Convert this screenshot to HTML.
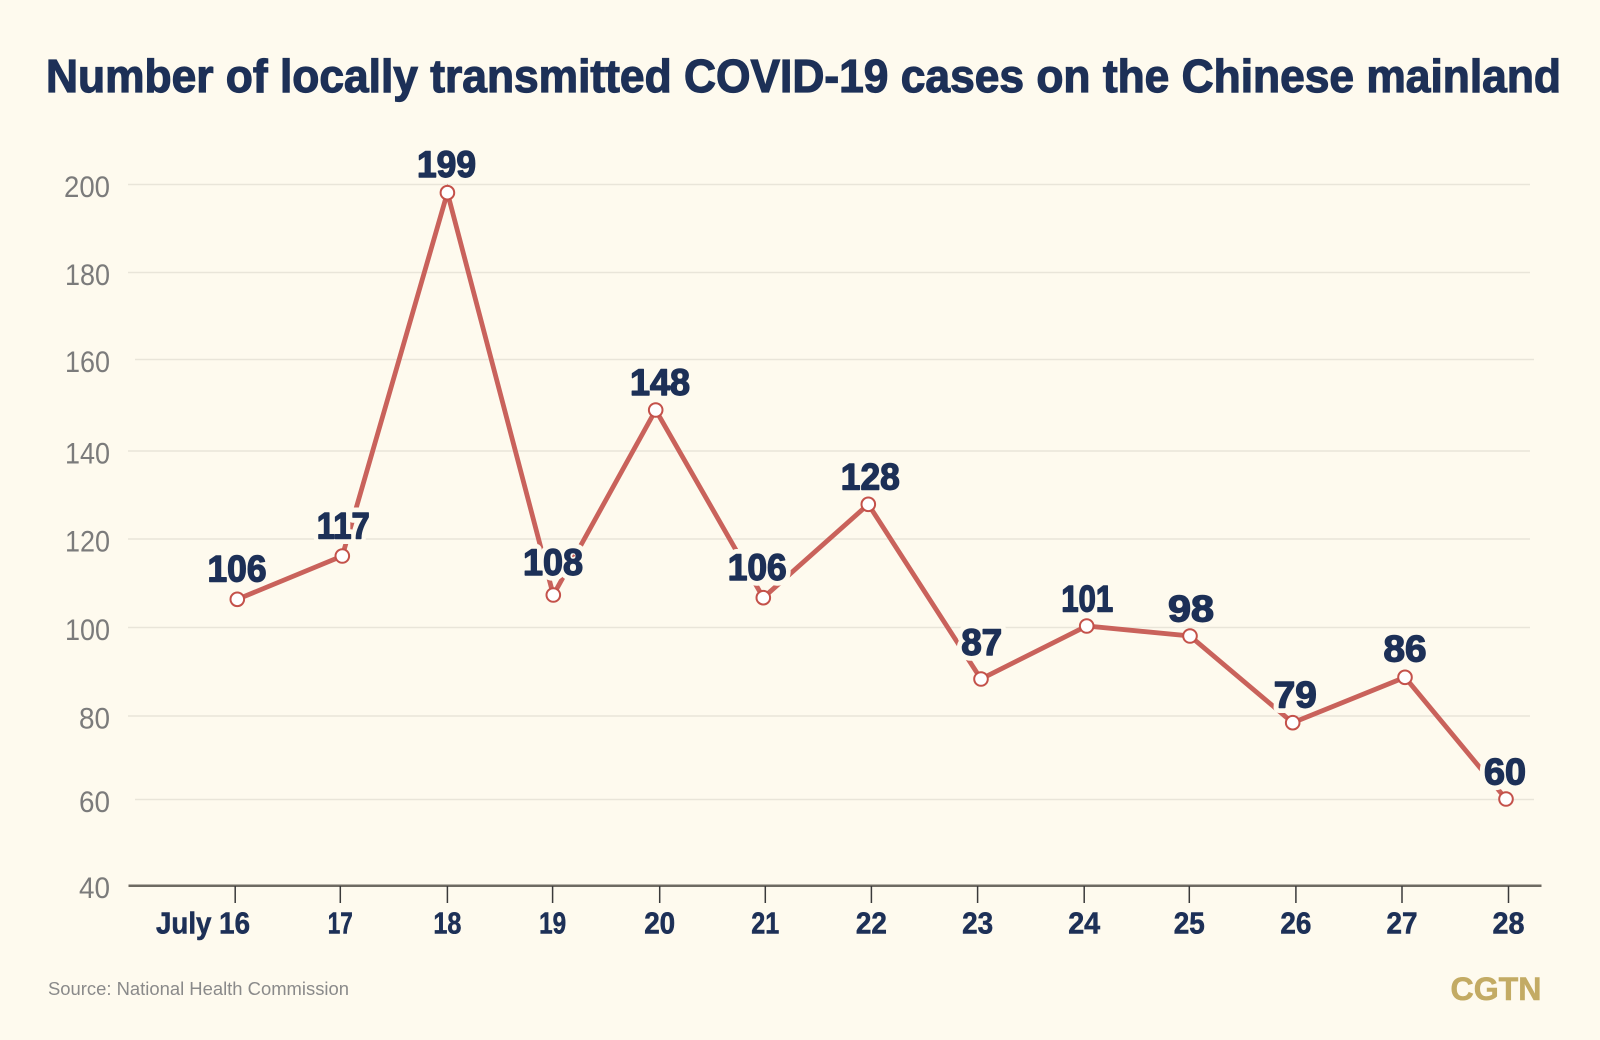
<!DOCTYPE html>
<html><head><meta charset="utf-8"><style>
html,body{margin:0;padding:0;background:#fefaee;}
svg{display:block;}
text{font-family:"Liberation Sans",sans-serif;}
</style></head><body>
<svg width="1600" height="1040" viewBox="0 0 1600 1040" xmlns="http://www.w3.org/2000/svg">
<rect width="1600" height="1040" fill="#fefaee"/>
<text x="46" y="92" font-size="46" font-weight="bold" fill="#1d3057" stroke="#1d3057" stroke-width="1.2" textLength="1515" lengthAdjust="spacingAndGlyphs">Number of locally transmitted COVID-19 cases on the Chinese mainland</text>

<g stroke="#e9e5d9" stroke-width="1.5">
<line x1="128" y1="184.5" x2="1530" y2="184.5"/>
<line x1="128" y1="272.5" x2="1530" y2="272.5"/>
<line x1="135" y1="359.5" x2="1534" y2="359.5"/>
<line x1="128" y1="451" x2="1530" y2="451"/>
<line x1="128" y1="539" x2="1530" y2="539"/>
<line x1="128" y1="627.5" x2="1530" y2="627.5"/>
<line x1="128" y1="716" x2="1530" y2="716"/>
<line x1="135" y1="799.5" x2="1534" y2="799.5"/>
</g>

<g font-size="30" fill="#7b7b7b" text-anchor="end">
<text x="110" y="197" textLength="46" lengthAdjust="spacingAndGlyphs">200</text>
<text x="110" y="285" textLength="45" lengthAdjust="spacingAndGlyphs">180</text>
<text x="110" y="372" textLength="45" lengthAdjust="spacingAndGlyphs">160</text>
<text x="110" y="463.5" textLength="45" lengthAdjust="spacingAndGlyphs">140</text>
<text x="110" y="551.5" textLength="45" lengthAdjust="spacingAndGlyphs">120</text>
<text x="110" y="640" textLength="45" lengthAdjust="spacingAndGlyphs">100</text>
<text x="110" y="728.5" textLength="31" lengthAdjust="spacingAndGlyphs">80</text>
<text x="110" y="812" textLength="31" lengthAdjust="spacingAndGlyphs">60</text>
<text x="110" y="898" textLength="31" lengthAdjust="spacingAndGlyphs">40</text>
</g>

<line x1="128.5" y1="885.7" x2="1541.5" y2="885.7" stroke="#6e6a62" stroke-width="2.5"/>
<g stroke="#3a3a3a" stroke-width="1.5">
<line x1="235.2" y1="886" x2="235.2" y2="903"/>
<line x1="340.3" y1="886" x2="340.3" y2="903"/>
<line x1="447.4" y1="886" x2="447.4" y2="903"/>
<line x1="552.6" y1="886" x2="552.6" y2="903"/>
<line x1="659.7" y1="886" x2="659.7" y2="903"/>
<line x1="765.3" y1="886" x2="765.3" y2="903"/>
<line x1="871.4" y1="886" x2="871.4" y2="903"/>
<line x1="977.6" y1="886" x2="977.6" y2="903"/>
<line x1="1084.2" y1="886" x2="1084.2" y2="903"/>
<line x1="1189.3" y1="886" x2="1189.3" y2="903"/>
<line x1="1295.9" y1="886" x2="1295.9" y2="903"/>
<line x1="1402" y1="886" x2="1402" y2="903"/>
<line x1="1508.5" y1="886" x2="1508.5" y2="903"/>
</g>

<g font-size="31" font-weight="bold" fill="#1d3057" stroke="#1d3057" stroke-width="0.6" text-anchor="middle">
<text x="203" y="933.5" textLength="94" lengthAdjust="spacingAndGlyphs">July 16</text>
<text x="340.3" y="933.5" textLength="25" lengthAdjust="spacingAndGlyphs">17</text>
<text x="447.4" y="933.5" textLength="28" lengthAdjust="spacingAndGlyphs">18</text>
<text x="552.6" y="933.5" textLength="27" lengthAdjust="spacingAndGlyphs">19</text>
<text x="659.7" y="933.5" textLength="31" lengthAdjust="spacingAndGlyphs">20</text>
<text x="765.3" y="933.5" textLength="28" lengthAdjust="spacingAndGlyphs">21</text>
<text x="871.4" y="933.5" textLength="31" lengthAdjust="spacingAndGlyphs">22</text>
<text x="977.6" y="933.5" textLength="31" lengthAdjust="spacingAndGlyphs">23</text>
<text x="1084.2" y="933.5" textLength="32" lengthAdjust="spacingAndGlyphs">24</text>
<text x="1189.3" y="933.5" textLength="31" lengthAdjust="spacingAndGlyphs">25</text>
<text x="1295.9" y="933.5" textLength="31" lengthAdjust="spacingAndGlyphs">26</text>
<text x="1402" y="933.5" textLength="31" lengthAdjust="spacingAndGlyphs">27</text>
<text x="1508.5" y="933.5" textLength="32" lengthAdjust="spacingAndGlyphs">28</text>
</g>

<polyline fill="none" stroke="#c9625b" stroke-width="4.8" stroke-linejoin="miter" points="237.3,599.3 342.3,556 447.4,192.7 553.3,595 655.7,410 763.3,597.7 868.3,504.3 981,679 1086.7,626 1190,636 1292.7,722.7 1405,677.3 1506,799"/>

<g font-size="37" font-weight="bold" fill="#fefaee" stroke="#fefaee" stroke-width="11" stroke-linejoin="round" text-anchor="middle">
<text x="237" y="581.7" textLength="59" lengthAdjust="spacingAndGlyphs">106</text>
<text x="343.3" y="538.3" textLength="53" lengthAdjust="spacingAndGlyphs">117</text>
<text x="446.5" y="177" textLength="59" lengthAdjust="spacingAndGlyphs">199</text>
<text x="553" y="575" textLength="60" lengthAdjust="spacingAndGlyphs">108</text>
<text x="660" y="395" textLength="60" lengthAdjust="spacingAndGlyphs">148</text>
<text x="757.2" y="580" textLength="59" lengthAdjust="spacingAndGlyphs">106</text>
<text x="870.3" y="489.3" textLength="59" lengthAdjust="spacingAndGlyphs">128</text>
<text x="981.7" y="655" textLength="41" lengthAdjust="spacingAndGlyphs">87</text>
<text x="1087.2" y="611.7" textLength="52" lengthAdjust="spacingAndGlyphs">101</text>
<text x="1191" y="621.5" textLength="46" lengthAdjust="spacingAndGlyphs">98</text>
<text x="1295.3" y="707.3" textLength="43" lengthAdjust="spacingAndGlyphs">79</text>
<text x="1405" y="661.7" textLength="43" lengthAdjust="spacingAndGlyphs">86</text>
<text x="1505" y="784.3" textLength="42" lengthAdjust="spacingAndGlyphs">60</text>
</g>
<g font-size="37" font-weight="bold" fill="#1d3057" stroke="#1d3057" stroke-width="1.4" stroke-linejoin="round" text-anchor="middle">
<text x="237" y="581.7" textLength="59" lengthAdjust="spacingAndGlyphs">106</text>
<text x="343.3" y="538.3" textLength="53" lengthAdjust="spacingAndGlyphs">117</text>
<text x="446.5" y="177" textLength="59" lengthAdjust="spacingAndGlyphs">199</text>
<text x="553" y="575" textLength="60" lengthAdjust="spacingAndGlyphs">108</text>
<text x="660" y="395" textLength="60" lengthAdjust="spacingAndGlyphs">148</text>
<text x="757.2" y="580" textLength="59" lengthAdjust="spacingAndGlyphs">106</text>
<text x="870.3" y="489.3" textLength="59" lengthAdjust="spacingAndGlyphs">128</text>
<text x="981.7" y="655" textLength="41" lengthAdjust="spacingAndGlyphs">87</text>
<text x="1087.2" y="611.7" textLength="52" lengthAdjust="spacingAndGlyphs">101</text>
<text x="1191" y="621.5" textLength="46" lengthAdjust="spacingAndGlyphs">98</text>
<text x="1295.3" y="707.3" textLength="43" lengthAdjust="spacingAndGlyphs">79</text>
<text x="1405" y="661.7" textLength="43" lengthAdjust="spacingAndGlyphs">86</text>
<text x="1505" y="784.3" textLength="42" lengthAdjust="spacingAndGlyphs">60</text>
</g>

<g fill="#ffffff" stroke="#c4514a" stroke-width="2">
<circle cx="237.3" cy="599.3" r="6.8"/>
<circle cx="342.3" cy="556" r="6.8"/>
<circle cx="447.4" cy="192.7" r="6.8"/>
<circle cx="553.3" cy="595" r="6.8"/>
<circle cx="655.7" cy="410" r="6.8"/>
<circle cx="763.3" cy="597.7" r="6.8"/>
<circle cx="868.3" cy="504.3" r="6.8"/>
<circle cx="981" cy="679" r="6.8"/>
<circle cx="1086.7" cy="626" r="6.8"/>
<circle cx="1190" cy="636" r="6.8"/>
<circle cx="1292.7" cy="722.7" r="6.8"/>
<circle cx="1405" cy="677.3" r="6.8"/>
<circle cx="1506" cy="799" r="6.8"/>
</g>

<text x="48" y="995" font-size="18.5" fill="#8a8a8a" textLength="301" lengthAdjust="spacingAndGlyphs">Source: National Health Commission</text>
<text x="1450.5" y="1000" font-size="32" font-weight="bold" fill="#c3ab64" stroke="#c3ab64" stroke-width="0.6" textLength="91" lengthAdjust="spacingAndGlyphs">CGTN</text>
</svg>
</body></html>
